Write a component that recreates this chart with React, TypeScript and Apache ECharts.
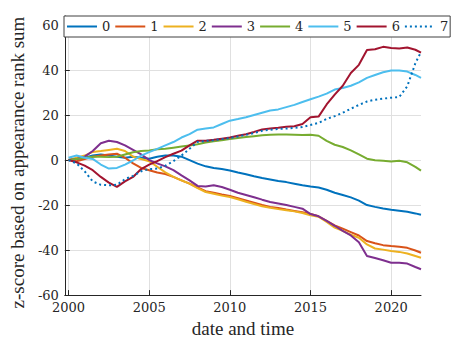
import React, { useEffect, useRef } from "react";
import * as echarts from "echarts";

const years = [
  2000, 2000.5, 2001, 2001.5, 2002, 2002.5, 2003, 2003.5, 2004, 2004.5,
  2005, 2005.5, 2006, 2006.5, 2007, 2007.5, 2008, 2008.5, 2009, 2009.5,
  2010, 2010.5, 2011, 2011.5, 2012, 2012.5, 2013, 2013.5, 2014, 2014.5,
  2015, 2015.5, 2016, 2016.5, 2017, 2017.5, 2018, 2018.5, 2019, 2019.5,
  2020, 2020.5, 2021, 2021.5, 2021.85,
];

const s0 = [0, 0.5, 1, 2, 2.5, 2, 1.5, 1, 1.5, 1, 0.6, 1.5, 2, 2, 1.5, 0, -1.6, -2.8, -3.5, -4, -4.6, -5.5, -6.3, -7.2, -8, -8.6, -9.3, -9.8, -10.5, -11.2, -11.8, -12.2, -13.2, -14.5, -15.5, -16.6, -18, -20, -20.8, -21.5, -22.1, -22.5, -23, -23.7, -24.3];
const s1 = [0, -0.5, 0.5, 1.5, 2, 2.5, 2.8, 1, -1.5, -3.5, -4.5, -5.5, -6.2, -7.5, -9, -10.5, -12.2, -13.8, -14.5, -15.3, -16, -17, -18, -19, -20, -20.8, -21.3, -22, -22.6, -23.2, -24, -25, -27, -29, -30.5, -32, -33.5, -36, -37, -37.8, -38.2, -38.5, -39, -40.2, -41.2];
const s2 = [0, 1, 2, 3.6, 4, 4.5, 5, 4, 1.5, 0.5, -0.5, -3, -5.5, -7.5, -9, -10.5, -12.5, -14.2, -15, -15.8, -16.4, -17.4, -18.5, -19.5, -20.5, -21.2, -21.8, -22.3, -22.8, -23.5, -24.5, -25.2, -27.5, -30, -31.5, -33.2, -34.5, -37.5, -39.3, -39.8, -40.4, -40.8, -41.5, -42.6, -43.4];
const s3 = [0, 0.5, 1.5, 4, 7.5, 8.6, 8, 6.5, 4.5, 2.5, 0, -1.5, -2.8, -4.5, -6.8, -9, -11.5, -11.8, -11.2, -12, -13.2, -14.5, -15.5, -16.5, -17.6, -18.6, -19.3, -20, -20.8, -21.6, -24, -25, -27, -29.2, -31.5, -33.5, -36.5, -42.6, -43.5, -44.5, -45.6, -45.6, -46, -47.5, -48.5];
const s4 = [0, 0.5, 1, 1.5, 1.5, 1.3, 1.5, 2.5, 3.5, 4, 4.2, 4.8, 5, 5.5, 6, 6.5, 7, 7.8, 8.3, 8.8, 9.3, 9.8, 10.2, 10.6, 11, 11.2, 11.3, 11.3, 11.2, 11.1, 11.2, 10.8, 8.5, 6.8, 5.8, 4.3, 2.5, 0.6, -0.1, -0.3, -0.6, -0.3, -1, -3, -4.7];
const s5 = [1, 2, 1, 0.5, -2, -3.8, -3.5, -2, -0.2, 2, 3.5, 5, 6.5, 8, 10, 11.5, 13.5, 14, 14.5, 16, 17.5, 18.2, 19, 20, 21, 22, 22.5, 23.5, 24.5, 25.8, 27, 28.2, 29.5, 31.3, 32, 33, 34.5, 36.5, 37.8, 39, 39.8, 39.8, 39.3, 37.8, 36.5];
const s6 = [0, -1, -2.5, -4.5, -7.5, -10, -11.9, -9.5, -7.5, -4, -2, -0.5, 1.3, 2.8, 4.2, 6.5, 8.6, 8.6, 9, 9.5, 10, 10.8, 11.5, 12.5, 13.6, 14, 14.3, 14.8, 15, 16, 19, 19.3, 24.7, 29.1, 33, 38.7, 42.3, 48.9, 49.2, 50.3, 49.8, 49.6, 50, 49, 47.7];
const s7 = [0, -1.5, -5, -9.5, -11, -11.2, -11, -8.5, -7, -5, -4, -3.8, -2.5, -0.5, 2, 5, 8, 8.5, 8.8, 9.3, 9.8, 10.5, 11.2, 12, 13, 13.5, 13.8, 14, 14.3, 14.7, 15.6, 16.5, 18.3, 19.5, 21, 22.8, 24.5, 26, 26.8, 27.3, 27.7, 28, 32.8, 43, 48];

const seriesNames = ["0", "1", "2", "3", "4", "5", "6", "7"];
const seriesValues = [s0, s1, s2, s3, s4, s5, s6, s7];
const colors = ["#0072BD", "#D95319", "#EDB120", "#7E2F8E", "#77AC30", "#4DBEEE", "#A2142F", "#0072BD"];
const xTicks = [2000, 2005, 2010, 2015, 2020];
const yTicks = [-60, -40, -20, 0, 20, 40, 60];

const NAME_FONT = "'Liberation Serif', 'Times New Roman', serif";
const TICK_FONT = "DejaVu Serif";
const INK = "#262626";

export default function App() {
  const ref = useRef<HTMLDivElement>(null);
  useEffect(() => {
    if (!ref.current) return;
    const chart = echarts.init(ref.current, null, { renderer: "svg" });
    chart.setOption({
      animation: false,
      backgroundColor: "#ffffff",
      textStyle: { fontFamily: TICK_FONT },
      grid: { left: 63, right: 39, top: 16, bottom: 45.5, containLabel: false },
      legend: {
        data: seriesNames,
        left: 64,
        top: 16,
        width: 430,
        orient: "horizontal",
        padding: [3, 2, 3, 2],
        itemGap: 4,
        itemWidth: 30,
        itemHeight: 4,
        itemStyle: { opacity: 0 },
        backgroundColor: "#ffffff",
        borderColor: "#404040",
        borderWidth: 1,
        textStyle: { fontFamily: TICK_FONT, fontSize: 13, color: INK, lineHeight: 15 },
      },
      xAxis: {
        type: "value",
        min: 1999.77,
        max: 2021.85,
        name: "date and time",
        nameLocation: "middle",
        nameGap: 21,
        nameTextStyle: { fontFamily: NAME_FONT, fontSize: 19, color: INK },
        axisLine: { show: true, onZero: false, lineStyle: { color: INK, width: 1 } },
        axisTick: { show: true, inside: true, length: 5, customValues: xTicks, lineStyle: { color: INK } },
        axisLabel: {
          customValues: xTicks,
          formatter: (v: number) => String(v),
          fontFamily: TICK_FONT,
          fontSize: 13,
          color: INK,
          margin: 6,
        },
        splitLine: { show: true, lineStyle: { color: "#e0e0e0", width: 1 } },
      },
      yAxis: {
        type: "value",
        min: -60,
        max: 64,
        name: "z-score based on appearance rank sum",
        nameLocation: "middle",
        nameGap: 31,
        nameTextStyle: { fontFamily: NAME_FONT, fontSize: 19, color: INK, padding: [0, 14, 0, 0] },
        axisLine: { show: true, onZero: false, lineStyle: { color: INK, width: 1 } },
        axisTick: { show: true, inside: true, length: 5, customValues: yTicks, lineStyle: { color: INK } },
        axisLabel: {
          customValues: yTicks,
          formatter: (v: number) => String(v),
          fontFamily: TICK_FONT,
          fontSize: 13,
          color: INK,
          margin: 6,
        },
        splitLine: { show: true, lineStyle: { color: "#e0e0e0", width: 1 } },
      },
      series: seriesValues.map((vals, k) => ({
        name: seriesNames[k],
        type: "line",
        symbol: "none",
        showSymbol: false,
        color: colors[k],
        lineStyle: {
          color: colors[k],
          width: 2,
          type: k === 7 ? [2, 3] : "solid",
        },
        data: years.map((x, i) => [x, vals[i]]),
      })),
    });
    return () => chart.dispose();
  }, []);
  return (
    <div
      ref={ref}
      style={{ position: "fixed", left: 0, top: 0, width: 460, height: 343 }}
    />
  );
}
